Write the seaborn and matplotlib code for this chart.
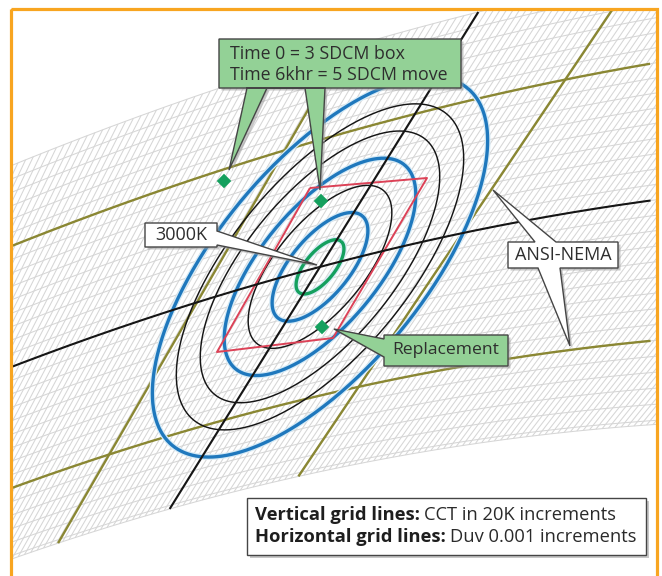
import numpy as np
import pandas as pd
import matplotlib
matplotlib.use("Agg")
import matplotlib.pyplot as plt
from matplotlib.patches import Rectangle, Polygon
import seaborn as sns

# ---------------------------------------------------------------------------
# Chart geometry (chart units, x to the right, y downward)
# ---------------------------------------------------------------------------
# Planckian locus samples
locus_x = [15, 233, 320, 450, 651]
locus_y = [366, 290, 267, 237, 200]

# isotherms fan out from this pole
isotherm_pole = (-1121.0, 2587.0)
duv_px = 20.0        # chart units per 0.001 Duv at the 3000K point
duv_gain = 0.0002    # growth of the Duv scale along the locus
x_ref = 320.0        # 3000K on the locus
guide_x_max = 651    # right end of locus and Duv guide lines

# isotherm guides: CCT and where they cross the locus
guide_cct = [3220, 3000, 2870]
guide_locus_x = [197, 320, 462]

# Duv values in 0.001 steps
band_duv = [-14.25, 15]    # extent of the chromaticity grid
ansi_duv = [-9, 9]         # ANSI-NEMA quadrangle limits

# 20K isotherm hatch spacing along the locus
hatch_step = 7
hatch_locus_range = (-260, 960)

# MacAdam ellipses (SDCM steps) around 3000K
sdcm_steps = [1, 2, 3, 4, 5, 6, 7]
sdcm_kind = ["green", "blue", "black", "blue", "black", "black", "blue"]
ellipse_a1 = 33.1      # semi-major axis of a 1-step ellipse
ellipse_b1 = 14.7      # semi-minor axis of a 1-step ellipse
ellipse_tilt = 50.4    # degrees

# 3-step box corners
box3_x = [310, 427, 333, 217]
box3_y = [188, 178, 338, 352]

# chromaticity points of the lamps
lamp_x = [224, 321, 322]
lamp_y = [181, 201, 327]

# colours
C_FRAME = "#f8a520"
C_HATCH = "#d6d6d6"
C_OLIVE = "#8a8733"
C_BLUE = "#1f78bd"
C_GREEN = "#15a05e"
C_BLACK = "#151515"
C_RED = "#dc4257"
C_BOXGREEN = "#93d196"
C_EDGE = "#454545"
C_TEXT = "#2e2e2e"

sns.set_theme(style="white")
plt.rcParams["font.family"] = ["Open Sans", "DejaVu Sans"]

fig = plt.figure(figsize=(6.62, 5.76), dpi=100)
ax = fig.add_axes([0, 0, 1, 1])
ax.set_xlim(0, 662)
ax.set_ylim(576, 0)
ax.axis("off")

clip = Rectangle((12.5, 10.5), 643, 570, transform=ax.transData)

coef = np.polyfit(locus_x, locus_y, 2)


def locus(xs):
    return np.polyval(coef, xs)


def duv_point(xs, steps):
    xs = np.asarray(xs, dtype=float)
    by = locus(xs)
    dx, dy = xs - isotherm_pole[0], by - isotherm_pole[1]
    n = np.hypot(dx, dy)
    r = steps * duv_px * (1 + duv_gain * (xs - x_ref))
    return xs + r * dx / n, by + r * dy / n


def draw(x, y, color, lw, z, units=None, clip_it=True):
    n0 = len(ax.lines)
    if units is None:
        sns.lineplot(x=x, y=y, sort=False, estimator=None, color=color,
                     linewidth=lw, legend=False, ax=ax, zorder=z)
    else:
        sns.lineplot(x=x, y=y, units=units, sort=False, estimator=None,
                     color=color, linewidth=lw, legend=False, ax=ax, zorder=z)
    for ln in ax.lines[n0:]:
        ln.set_solid_capstyle("butt")
        if clip_it:
            ln.set_clip_path(clip)


# --- chromaticity grid hatch -------------------------------------------------
rows = []
lid = 0
for xs in np.arange(hatch_locus_range[0], hatch_locus_range[1], hatch_step):
    px, py = duv_point([xs, xs], np.array(band_duv, dtype=float))
    for a, b in zip(px, py):
        rows.append((a, b, lid))
    lid += 1
xs_dense = np.linspace(hatch_locus_range[0], hatch_locus_range[1], 240)
duv_levels = list(np.arange(np.ceil(band_duv[0]), band_duv[1] + 1))
if band_duv[0] not in duv_levels:
    duv_levels = [band_duv[0]] + duv_levels
for k in duv_levels:
    px, py = duv_point(xs_dense, k)
    for a, b in zip(px, py):
        rows.append((a, b, lid))
    lid += 1
hatch = pd.DataFrame(rows, columns=["x", "y", "line"])
draw(hatch["x"], hatch["y"], C_HATCH, 0.75, 1, units=hatch["line"])

# --- isotherm guides ---------------------------------------------------------
for cct, xs in zip(guide_cct, guide_locus_x):
    steps = np.array(band_duv, dtype=float)
    px, py = duv_point(np.full(2, xs), steps)
    draw(px, py, C_BLACK if cct == 3000 else C_OLIVE,
         1.5 if cct == 3000 else 1.7, 5 if cct == 3000 else 2)

# --- Duv guides: ANSI limits and the locus itself ------------------------------
xs_line = np.linspace(-300, 1000, 600)
for k in ansi_duv + [0]:
    px, py = duv_point(xs_line, k)
    keep = px <= guide_x_max
    draw(px[keep], py[keep], C_BLACK if k == 0 else C_OLIVE,
         1.5 if k == 0 else 1.7, 5 if k == 0 else 2)

# --- MacAdam ellipses -------------------------------------------------------
cx, cy = x_ref, float(locus(x_ref))
phi = np.linspace(0, 2 * np.pi, 361)
th = np.radians(ellipse_tilt)
order = sorted(zip(sdcm_steps, sdcm_kind), key=lambda t: t[1] != "black")
for n, kind in order:
    a, b = ellipse_a1 * n, ellipse_b1 * n
    ex = cx + a * np.cos(phi) * np.cos(th) + b * np.sin(phi) * np.sin(th)
    ey = cy - a * np.cos(phi) * np.sin(th) + b * np.sin(phi) * np.cos(th)
    if kind == "black":
        draw(ex, ey, C_BLACK, 1.05, 3)
    else:
        draw(ex, ey, "#d7ebf6", 4.2, 3.2)
        draw(ex, ey, C_BLUE if kind == "blue" else C_GREEN, 2.4, 3.4)

# --- 3-step box ----------------------------------------------------------------
draw(box3_x + box3_x[:1], box3_y + box3_y[:1], C_RED, 1.4, 4)

# --- lamp points -------------------------------------------------------------------
sns.scatterplot(x=lamp_x, y=lamp_y, marker="D", s=55, color=C_GREEN,
                edgecolor="none", legend=False, ax=ax, zorder=6)

# --- frame -----------------------------------------------------------------------------
ax.add_patch(Rectangle((11, 9), 646, 620, fill=False, edgecolor=C_FRAME,
                       linewidth=2.3, zorder=20))


# --- callouts -----------------------------------------------------------------------
def callout(x0, y0, x1, y1, pointers, face, z):
    """Box with wedge pointers; pointer = (edge, p_from, p_to, tip)."""
    pts = []
    corners = {"top": (x0, y0), "right": (x1, y0),
               "bottom": (x1, y1), "left": (x0, y1)}
    for name in ["top", "right", "bottom", "left"]:
        pts.append(corners[name])
        for edge, p, q, tip in pointers:
            if edge != name:
                continue
            if name == "top":
                pts += [(p, y0), tip, (q, y0)]
            elif name == "right":
                pts += [(x1, p), tip, (x1, q)]
            elif name == "bottom":
                pts += [(q, y1), tip, (p, y1)]
            else:
                pts += [(x0, q), tip, (x0, p)]
    pts = np.array(pts, dtype=float)
    shadow = Polygon(pts + [2.5, 2.5], closed=True, facecolor="#9a9a9a",
                     edgecolor="none", alpha=0.55, zorder=z - 0.5)
    body = Polygon(pts, closed=True, facecolor=face, edgecolor=C_EDGE,
                   linewidth=1.0, joinstyle="miter", zorder=z)
    ax.add_patch(shadow)
    ax.add_patch(body)


callout(219, 39, 461, 88,
        [("bottom", 247, 267, (229, 170)), ("bottom", 305, 325, (320, 190))],
        C_BOXGREEN, 10)
ax.text(230, 54, "Time 0 = 3 SDCM box", fontsize=12.8, color=C_TEXT,
        ha="left", va="center", zorder=11)
ax.text(230, 75, "Time 6khr = 5 SDCM move", fontsize=12.8, color=C_TEXT,
        ha="left", va="center", zorder=11)

callout(145, 223, 217, 247, [("right", 231, 245, (317, 265))], "white", 10)
ax.text(181, 235, "3000K", fontsize=13, color=C_TEXT, ha="center",
        va="center", zorder=11)

callout(508, 242, 618, 268,
        [("top", 535, 556, (493, 190)), ("bottom", 538, 560, (570, 346))],
        "white", 10)
ax.text(563, 255.5, "ANSI-NEMA", fontsize=13, color=C_TEXT, ha="center",
        va="center", zorder=11)

callout(384, 335, 508, 366, [("left", 339, 357, (334, 329))], C_BOXGREEN, 10)
ax.text(446, 350.5, "Replacement", fontsize=12.6, color=C_TEXT, ha="center",
        va="center", zorder=11)

callout(247, 498, 646, 555, [], "white", 10)
renderer = fig.canvas.get_renderer()
inv = ax.transData.inverted()
for yy, bold, rest in [(515, "Vertical grid lines:", "CCT in 20K increments"),
                       (537, "Horizontal grid lines:", "Duv 0.001 increments")]:
    t = ax.text(255, yy, bold, fontsize=13.2, fontweight="bold", color="#1e1e1e",
                ha="left", va="center", zorder=11)
    bb = t.get_window_extent(renderer)
    xend = inv.transform((bb.x1, bb.y0))[0]
    ax.text(xend + 4, yy, rest, fontsize=13.2, color="#2a2a2a", ha="left",
            va="center", zorder=11)

fig.savefig("out.png", dpi=100, facecolor="white")
